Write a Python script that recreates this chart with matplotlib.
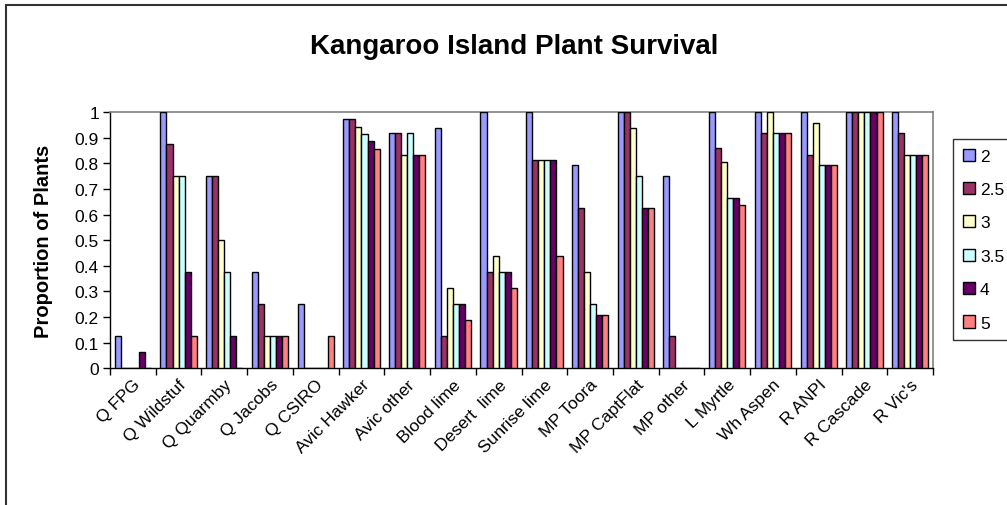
import matplotlib
matplotlib.use("Agg")
import matplotlib.pyplot as plt
import numpy as np
from matplotlib.patches import Rectangle

plt.rcParams['font.family'] = ['Liberation Sans', 'DejaVu Sans']

categories = ["Q FPG", "Q Wildstuf", "Q Quarmby", "Q Jacobs", "Q CSIRO", "Avic Hawker",
              "Avic other", "Blood lime", "Desert  lime", "Sunrise lime", "MP Toora",
              "MP CaptFlat", "MP other", "L Myrtle", "Wh Aspen", "R ANPI", "R Cascade", "R Vic's"]

series_names = ["2", "2.5", "3", "3.5", "4", "5"]

s2  = [0.125, 1.0,   0.75,  0.375, 0.25,  0.971, 0.917, 0.9375, 1.0,    1.0,    0.792, 1.0,    0.75,  1.0,   1.0,   1.0,   1.0, 1.0]
s25 = [0,     0.875, 0.75,  0.25,  0,     0.971, 0.917, 0.125,  0.375,  0.8125, 0.625, 1.0,    0.125, 0.86,  0.917, 0.833, 1.0, 0.917]
s3  = [0,     0.75,  0.5,   0.125, 0,     0.943, 0.833, 0.3125, 0.4375, 0.8125, 0.375, 0.9375, 0,     0.805, 1.0,   0.958, 1.0, 0.833]
s35 = [0,     0.75,  0.375, 0.125, 0,     0.914, 0.917, 0.25,   0.375,  0.8125, 0.25,  0.75,   0,     0.665, 0.917, 0.792, 1.0, 0.833]
s4  = [0.0625,0.375, 0.125, 0.125, 0,     0.886, 0.833, 0.25,   0.375,  0.8125, 0.208, 0.625,  0,     0.665, 0.917, 0.792, 1.0, 0.833]
s5  = [0,     0.125, 0,     0.125, 0.125, 0.857, 0.833, 0.1875, 0.3125, 0.4375, 0.208, 0.625,  0,     0.636, 0.917, 0.792, 1.0, 0.833]

colors = ["#9999FF", "#993366", "#FFFFCC", "#CCFFFF", "#660066", "#FF8080"]
yticks = [0, 0.1, 0.2, 0.3, 0.4, 0.5, 0.6, 0.7, 0.8, 0.9, 1]
ytick_labels = ["0", "0.1", "0.2", "0.3", "0.4", "0.5", "0.6", "0.7", "0.8", "0.9", "1"]

W, H = 1007, 506
fig = plt.figure(figsize=(W / 100, H / 100), dpi=100)
ax = fig.add_axes([110 / W, (H - 369.3) / H, (933 - 110) / W, (369.3 - 113) / H])

n = len(categories)
x = np.arange(n)
all_series = [s2, s25, s3, s35, s4, s5]
bw = 0.1325
for i, (vals, c, name) in enumerate(zip(all_series, colors, series_names)):
    offs = (i - 2.5) * bw
    ax.bar(x + offs, vals, width=bw, color=c, edgecolor="black", linewidth=1.0,
           label=name, zorder=3)

ax.set_xlim(-0.5, n - 0.5)
ax.set_ylim(0, 1)
ax.set_yticks(yticks)
ax.set_yticklabels(ytick_labels, fontsize=12.5)
ax.set_xticks(np.arange(n + 1) - 0.5)
ax.set_xticklabels([])
ax.set_xticks(x, minor=True)
ax.set_xticklabels(categories, minor=True, rotation=45, ha="right", va="top",
                   rotation_mode="anchor", fontsize=12.5)
ax.tick_params(axis="x", which="minor", length=0, pad=6)
ax.tick_params(axis="x", which="major", length=5, direction="out", width=1)
ax.tick_params(axis="y", length=5, direction="out", width=1, pad=3)

for s in ["top", "right"]:
    ax.spines[s].set_color("#808080")
    ax.spines[s].set_linewidth(1.2)
for s in ["left", "bottom"]:
    ax.spines[s].set_color("black")
    ax.spines[s].set_linewidth(1.0)

fig.text(44 / W, 1 - 241 / H, "Proportion of Plants", rotation=90, ha="center", va="center",
         fontsize=14.5, fontweight="bold")

fig.text(514 / W, 1 - 47 / H, "Kangaroo Island Plant Survival", ha="center", va="center",
         fontsize=20, fontweight="bold")

leg = fig.legend(loc="upper left", bbox_to_anchor=(953 / W, 1 - 140 / H), fontsize=12.5,
                 frameon=True, fancybox=False, edgecolor="black", handlelength=0.7,
                 handleheight=0.7, handletextpad=0.3, labelspacing=1.05, borderpad=0.55,
                 borderaxespad=0)
leg.get_frame().set_linewidth(1.0)

fig.patches.append(Rectangle((5.5 / W, -0.1), 1.2, (H - 5.5) / H + 0.1,
                             transform=fig.transFigure, fill=False, edgecolor="#333333",
                             linewidth=1.5, clip_on=False))

fig.savefig("out.png", dpi=100)
